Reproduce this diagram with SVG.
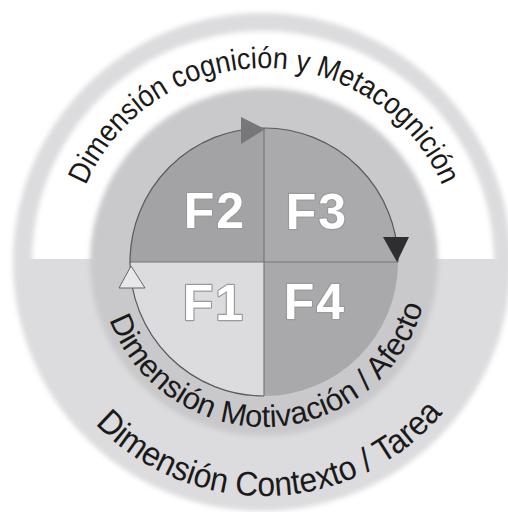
<svg xmlns="http://www.w3.org/2000/svg" width="508" height="512" viewBox="0 0 508 512">
<defs>
<filter id="soft" x="-10%" y="-10%" width="120%" height="120%"><feGaussianBlur stdDeviation="2.5"/></filter>
<clipPath id="upper"><rect x="0" y="0" width="508" height="259"/></clipPath>
<path id="arcTop" d="M70,262 A194,194 0 0 1 458,262"/>
<path id="arcMid" d="M99,262 A165,165 0 0 0 429,262"/>
<path id="arcOut" d="M30,262 A234,234 0 0 0 498,262"/>
</defs>
<style>
.lbl{font-family:"Liberation Sans",Arial,sans-serif;font-weight:bold;font-size:50px;fill:#ffffff;letter-spacing:2px;text-anchor:middle;stroke:#9a9a9c;stroke-width:2.4;paint-order:stroke;stroke-linejoin:round}
.dim{font-family:"Liberation Sans",Arial,sans-serif;fill:#1a1a1a;text-anchor:middle}
.edge{fill:none;stroke:#5a5a5c;stroke-width:1.2}
.div{stroke:#77777a;stroke-width:1.2}
</style>
<rect width="508" height="512" fill="#ffffff"/>
<g id="background">
<circle cx="262" cy="262" r="249" fill="#dcdcde" filter="url(#soft)"/>
<g clip-path="url(#upper)"><circle cx="263" cy="262" r="231" fill="#ffffff" filter="url(#soft)"/></g>
<circle cx="264" cy="262" r="174" fill="#c9c9cc" filter="url(#soft)"/>
</g>
<g id="F2"><path d="M264,262 L130,262 A134,134 0 0 1 264,128 Z" fill="#a3a3a6"/><text class="lbl" x="215" y="228">F2</text></g>
<g id="F3"><path d="M264,262 L264,128 A134,134 0 0 1 398,262 Z" fill="#aaaaad"/><text class="lbl" x="317" y="229">F3</text></g>
<g id="F4"><path d="M264,262 L398,262 A134,134 0 0 1 264,396 Z" fill="#a9a9ac"/><text class="lbl" x="315" y="319">F4</text></g>
<g id="F1"><path d="M264,262 L264,396 A134,134 0 0 1 130,262 Z" fill="#dcdcdf"/><text class="lbl" x="214" y="320" stroke="#8a8a8c">F1</text></g>
<g id="connectors">
<line class="div" x1="264" y1="128" x2="264" y2="396"/>
<line class="div" x1="130" y1="262" x2="398" y2="262"/>
<path class="edge" d="M130,262 A134,134 0 0 1 264,128"/>
<path class="edge" d="M264,128 A134,134 0 0 1 398,262"/>
<path class="edge" d="M264,396 A134,134 0 0 1 130,262"/>
<polygon points="241,117 241,144 265,129" fill="#77777a"/>
<polygon points="383,237 409,237 397,262" fill="#2e2e30"/>
<polygon points="131,266 119,288 145,288" fill="#e8e8ea" stroke="#666668" stroke-width="1"/>
</g>
<g id="dimTop"><text class="dim" font-size="30"><textPath href="#arcTop" startOffset="50%" textLength="452" lengthAdjust="spacingAndGlyphs">Dimensión cognición y Metacognición</textPath></text></g>
<g id="dimMid"><text class="dim" font-size="31"><textPath href="#arcMid" startOffset="51.4%" textLength="415" lengthAdjust="spacingAndGlyphs">Dimensión Motivación / Afecto</textPath></text></g>
<g id="dimOut"><text class="dim" font-size="34"><textPath href="#arcOut" startOffset="51%" textLength="392" lengthAdjust="spacingAndGlyphs">Dimensión Contexto / Tarea</textPath></text></g>
</svg>
